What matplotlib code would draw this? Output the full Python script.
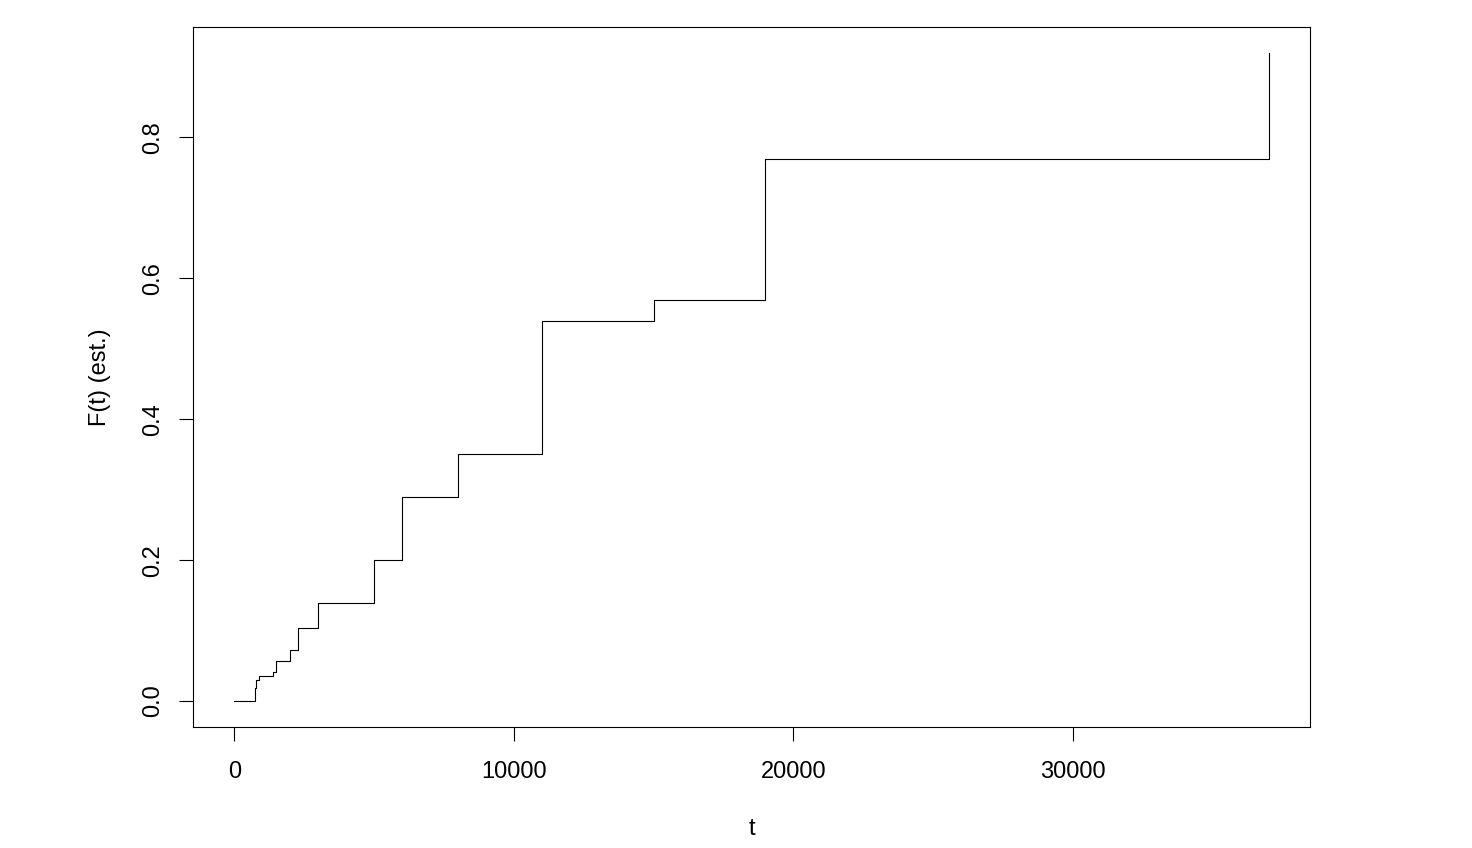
import matplotlib
matplotlib.use("Agg")
import matplotlib.pyplot as plt

t_values = [0, 730, 780, 870, 1370, 1490, 1980, 2290, 3000, 5000, 6000, 8000, 11000, 15000, 19000, 37000]
F_values = [0, 0.019, 0.030, 0.036, 0.041, 0.057, 0.073, 0.104, 0.139, 0.20, 0.29, 0.35, 0.54, 0.57, 0.77, 0.92]
x_ticks = [0, 10000, 20000, 30000]
y_ticks = [0.0, 0.2, 0.4, 0.6, 0.8]

plt.rcParams['font.family'] = ['Liberation Sans', 'DejaVu Sans']

fig = plt.figure(figsize=(14.72, 8.48), dpi=100)
ax = fig.add_axes([193/1472, 1-727/848, (1310-193)/1472, (727-27)/848])

ax.step(t_values, F_values, where='post', color='black', linewidth=0.8)

ax.set_xlim(-1480, 38480)
ax.set_ylim(-0.0368, 0.9568)
ax.set_xticks(x_ticks)
ax.set_xticklabels([str(v) for v in x_ticks])
ax.set_yticks(y_ticks)
ax.set_yticklabels([f"{v:.1f}" for v in y_ticks], rotation=90, va='center')
ax.tick_params(axis='both', direction='out', length=10, width=0.8, labelsize=17)
ax.tick_params(axis='x', pad=14.5)
ax.tick_params(axis='y', pad=11)
for s in ax.spines.values():
    s.set_linewidth(0.8)

ax.set_xlabel('t', fontsize=17, labelpad=25)
ax.set_ylabel('F(t) (est.)', fontsize=17, labelpad=22)

fig.savefig('out.png', dpi=100)
